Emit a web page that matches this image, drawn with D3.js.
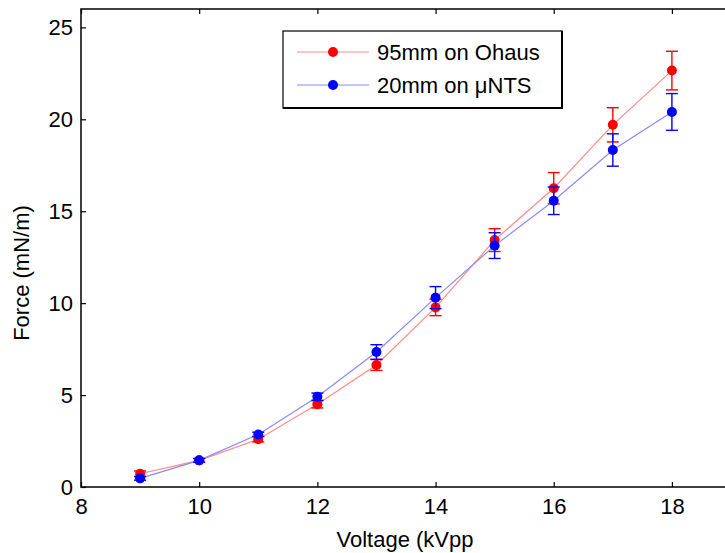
<!DOCTYPE html>
<html>
<head>
<meta charset="utf-8">
<script src="https://cdn.jsdelivr.net/npm/d3@7"></script>
<style>
  body { margin: 0; background: #fff; }
  svg { display: block; font-family: "Liberation Sans", Arial, sans-serif; }
</style>
</head>
<body>
<div id="chart"></div>
<script>
// data
var voltage = [9, 10, 11, 12, 13, 14, 15, 16, 17, 18];
var ohausForce = [0.72, 1.45, 2.6, 4.5, 6.64, 9.77, 13.43, 16.25, 19.7, 22.65];
var ohausErr = [0.15, 0.1, 0.15, 0.2, 0.3, 0.45, 0.62, 0.85, 0.93, 1.05];
var ntsForce = [0.47, 1.45, 2.86, 4.91, 7.34, 10.3, 13.13, 15.57, 18.33, 20.4];
var ntsErr = [0.1, 0.1, 0.12, 0.2, 0.4, 0.6, 0.7, 0.75, 0.88, 1.0];
var xTicks = [8, 10, 12, 14, 16, 18];
var yTicks = [0, 5, 10, 15, 20, 25];
var seriesNames = ["95mm on Ohaus", "20mm on \u03bcNTS"];

var W = 725, H = 553;
var svg = d3.select("#chart").append("svg")
    .attr("width", W).attr("height", H);

var x = d3.scaleLinear().domain([8, 19]).range([81, 731]);
var y = d3.scaleLinear().domain([0, 26]).range([487, 9]);

var series = [
    {name: seriesNames[0], vals: ohausForce, err: ohausErr, line: "#ff8a8a", col: "#ff0000"},
    {name: seriesNames[1], vals: ntsForce, err: ntsErr, line: "#8a8aff", col: "#0000ff"}
];

var plot = svg.append("g");

var line = d3.line()
    .x(d => x(d[0]))
    .y(d => y(d[1]));

series.forEach(function(s) {
    var pts = voltage.map((v, i) => [v, s.vals[i], s.err[i]]);
    var g = plot.append("g");
    g.append("path")
        .attr("d", line(pts))
        .attr("fill", "none")
        .attr("stroke", s.line)
        .attr("stroke-width", 1.2);
    var eb = g.selectAll(".eb").data(pts).join("g")
        .attr("stroke", s.col)
        .attr("stroke-width", 1.4);
    eb.append("line")
        .attr("x1", d => x(d[0])).attr("x2", d => x(d[0]))
        .attr("y1", d => y(d[1] - d[2])).attr("y2", d => y(d[1] + d[2]));
    eb.append("line")
        .attr("x1", d => x(d[0]) - 6).attr("x2", d => x(d[0]) + 6)
        .attr("y1", d => y(d[1] + d[2])).attr("y2", d => y(d[1] + d[2]));
    eb.append("line")
        .attr("x1", d => x(d[0]) - 6).attr("x2", d => x(d[0]) + 6)
        .attr("y1", d => y(d[1] - d[2])).attr("y2", d => y(d[1] - d[2]));
    g.selectAll("circle").data(pts).join("circle")
        .attr("cx", d => x(d[0]))
        .attr("cy", d => y(d[1]))
        .attr("r", 5)
        .attr("fill", s.col);
});

// axes box, matlab style with ticks inside
var axG = svg.append("g");
axG.append("rect")
    .attr("x", x(8)).attr("y", y(26))
    .attr("width", x(19) - x(8)).attr("height", y(0) - y(26))
    .attr("fill", "none").attr("stroke", "#000").attr("stroke-width", 1.5);

var bottomAxis = d3.axisBottom(x).tickValues(xTicks).tickSize(-5).tickPadding(11).tickFormat(d3.format("d"));
var leftAxis = d3.axisLeft(y).tickValues(yTicks).tickSize(-5).tickPadding(8).tickFormat(d3.format("d"));

var bx = axG.append("g").attr("transform", `translate(0,${y(0)})`).call(bottomAxis);
var lx = axG.append("g").attr("transform", `translate(${x(8)},0)`).call(leftAxis);
var tx = axG.append("g").attr("transform", `translate(0,${y(26)})`)
    .call(d3.axisTop(x).tickValues(xTicks).tickSize(-5).tickFormat(""));
var rx = axG.append("g").attr("transform", `translate(${x(19)},0)`)
    .call(d3.axisRight(y).tickValues(yTicks).tickSize(-5).tickFormat(""));

[bx, lx, tx, rx].forEach(function(a) {
    a.select(".domain").remove();
    a.selectAll("line").attr("stroke", "#000").attr("stroke-width", 1.2);
    a.selectAll("text").attr("fill", "#000").style("font-size", "22px")
        .style("font-family", "'Liberation Sans', Arial, sans-serif");
});

svg.append("text")
    .attr("x", 405).attr("y", 547)
    .attr("text-anchor", "middle")
    .style("font-size", "22px")
    .text("Voltage (kVpp");

svg.append("text")
    .attr("transform", "translate(29,273) rotate(-90)")
    .attr("text-anchor", "middle")
    .style("font-size", "22px")
    .text("Force (mN/m)");

// legend
var leg = svg.append("g").attr("transform", "translate(283,31)");
leg.append("rect")
    .attr("width", 279).attr("height", 77)
    .attr("fill", "#fff").attr("stroke", "#000").attr("stroke-width", 1.2);
leg.append("path")
    .attr("d", "M279,0 V77 H0")
    .attr("fill", "none").attr("stroke", "#000").attr("stroke-width", 2);
series.forEach(function(s, i) {
    var ly = 21 + i * 33;
    leg.append("line")
        .attr("x1", 14).attr("x2", 86).attr("y1", ly).attr("y2", ly)
        .attr("stroke", s.line).attr("stroke-width", 1.2);
    leg.append("circle")
        .attr("cx", 50).attr("cy", ly).attr("r", 5).attr("fill", s.col);
    leg.append("text")
        .attr("x", 94).attr("y", ly + 8)
        .style("font-size", "22px")
        .text(s.name);
});
</script>
</body>
</html>
